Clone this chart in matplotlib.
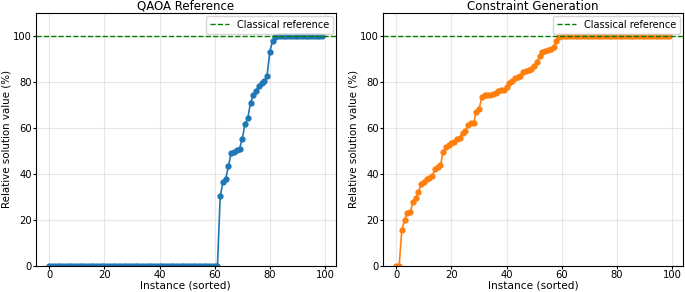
import matplotlib
matplotlib.use('Agg')
import matplotlib.pyplot as plt
import numpy as np

# Relative solution values (%) per instance, sorted ascending
qaoa_values = [0.0] * 62 + [
    30.3, 36.5, 38.0, 43.5, 49.2, 49.5, 50.6, 50.9, 55.3, 61.7,
    64.2, 71.0, 74.2, 76.1, 78.3, 79.5, 80.3, 82.7, 93.2, 97.7,
    99.4] + [100.0] * 17

cg_values = [
    0.0, 0.0, 15.7, 20.1, 23.0, 23.3, 27.7, 29.6, 32.1, 35.7,
    36.4, 37.9, 38.2, 39.2, 42.0, 43.1, 43.7, 49.6, 51.5, 52.6,
    53.4, 54.1, 55.4, 55.8, 58.0, 58.6, 61.4, 62.0, 62.0, 67.1,
    68.2, 73.3, 74.2, 74.3, 74.3, 74.6, 75.2, 76.1, 76.5, 76.5,
    77.6, 79.6, 80.5, 81.6, 82.2, 82.7, 84.3, 84.7, 85.0, 85.7,
    86.7, 88.6, 91.4, 92.9, 93.4, 93.8, 94.1, 95.0, 97.8, 99.3,
] + [100.0] * 40

classical_ref = 100
titles = ['QAOA Reference', 'Constraint Generation']

fig, axes = plt.subplots(1, 2, figsize=(6.85, 2.92), dpi=100)
fig.subplots_adjust(left=0.052, right=0.997, bottom=0.089, top=0.956, wspace=0.156)

for ax, vals, color, title in zip(axes, [qaoa_values, cg_values], ['C0', 'C1'], titles):
    x = np.arange(len(vals))
    ax.plot(x, vals, marker='o', color=color, markersize=3.5, linewidth=1.2)
    ax.axhline(classical_ref, color='green', linestyle='--', linewidth=1, label='Classical reference')
    ax.set_ylim(0, 110)
    ax.set_xticks(range(0, 101, 20))
    ax.set_yticks(range(0, 101, 20))
    ax.grid(True, alpha=0.3)
    ax.set_title(title, fontsize=8.5, pad=1.5)
    ax.set_xlabel('Instance (sorted)', fontsize=7.6, labelpad=0.3)
    ax.set_ylabel('Relative solution value (%)', fontsize=7.4, labelpad=0.6)
    ax.tick_params(labelsize=7.2, length=2.5, pad=0.4)
    ax.legend(loc='upper right', fontsize=7, borderaxespad=0.3)

fig.savefig('out.png', dpi=100)
